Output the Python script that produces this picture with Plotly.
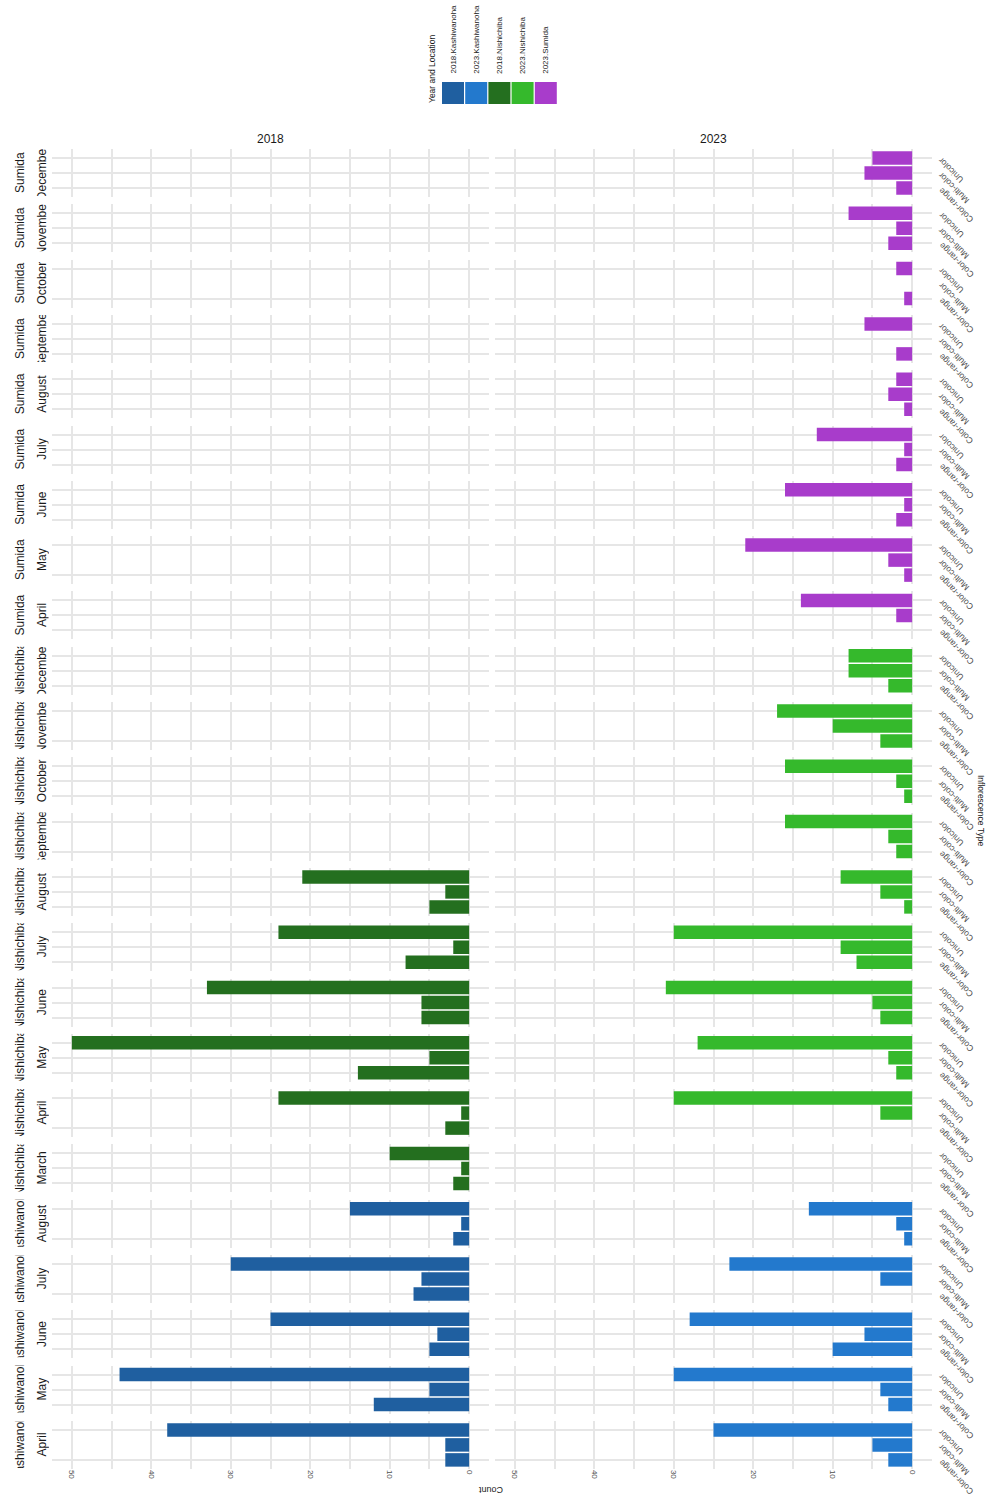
import plotly.graph_objects as go

# ---------------------------------------------------------------- data
types = ["Unicolor", "Multi-color", "Color-range"]          # top -> bottom inside each panel
type_order = ["Color-range", "Multi-color", "Unicolor"]     # axis order bottom -> top
years = ["2018", "2023"]

sumida_months = ["December", "November", "October", "September", "August",
                 "July", "June", "May", "April"]
nishichiba_months = ["December", "November", "October", "September", "August",
                     "July", "June", "May", "April", "March"]
kashiwanoha_months = ["August", "July", "June", "May", "April"]

sumida_2023_unicolor = [5, 8, 2, 6, 2, 12, 16, 21, 14]
sumida_2023_multicolor = [6, 2, None, None, 3, 1, 1, 3, 2]
sumida_2023_colorrange = [2, 3, 1, 2, 1, 2, 2, 1, None]

nishichiba_2018_unicolor = [None, None, None, None, 21, 24, 33, 50, 24, 10]
nishichiba_2018_multicolor = [None, None, None, None, 3, 2, 6, 5, 1, 1]
nishichiba_2018_colorrange = [None, None, None, None, 5, 8, 6, 14, 3, 2]

nishichiba_2023_unicolor = [8, 17, 16, 16, 9, 30, 31, 27, 30, None]
nishichiba_2023_multicolor = [8, 10, 2, 3, 4, 9, 5, 3, 4, None]
nishichiba_2023_colorrange = [3, 4, 1, 2, 1, 7, 4, 2, None, None]

kashiwanoha_2018_unicolor = [15, 30, 25, 44, 38]
kashiwanoha_2018_multicolor = [1, 6, 4, 5, 3]
kashiwanoha_2018_colorrange = [2, 7, 5, 12, 3]

kashiwanoha_2023_unicolor = [13, 23, 28, 30, 25]
kashiwanoha_2023_multicolor = [2, 4, 6, 4, 5]
kashiwanoha_2023_colorrange = [1, None, 10, 3, 3]

legend_keys = ["2018.Kashiwanoha", "2023.Kashiwanoha", "2018.Nishichiba",
               "2023.Nishichiba", "2023.Sumida"]
palette = {
    "2018.Kashiwanoha": "#1f5fa0",
    "2023.Kashiwanoha": "#2379cd",
    "2018.Nishichiba": "#246f1f",
    "2023.Nishichiba": "#35b92c",
    "2023.Sumida": "#a83ccb",
}

# (year, location) -> per-month values for each inflorescence type
series = {
    ("2023", "Sumida"): (sumida_2023_unicolor, sumida_2023_multicolor, sumida_2023_colorrange),
    ("2018", "Nishichiba"): (nishichiba_2018_unicolor, nishichiba_2018_multicolor, nishichiba_2018_colorrange),
    ("2023", "Nishichiba"): (nishichiba_2023_unicolor, nishichiba_2023_multicolor, nishichiba_2023_colorrange),
    ("2018", "Kashiwanoha"): (kashiwanoha_2018_unicolor, kashiwanoha_2018_multicolor, kashiwanoha_2018_colorrange),
    ("2023", "Kashiwanoha"): (kashiwanoha_2023_unicolor, kashiwanoha_2023_multicolor, kashiwanoha_2023_colorrange),
}

facet_rows = ([("Sumida", m, i) for i, m in enumerate(sumida_months)]
              + [("Nishichiba", m, i) for i, m in enumerate(nishichiba_months)]
              + [("Kashiwanoha", m, i) for i, m in enumerate(kashiwanoha_months)])

count_ticks = [0, 10, 20, 30, 40, 50]
count_minor = [5, 15, 25, 35, 45]

# ---------------------------------------------------------------- layout geometry
W, H = 989, 1498
FONT = "Liberation Sans, Arial, sans-serif"
GRID = "#e6e6e6"
row_top, row_pitch, panel_h = 149, 55.3, 48
col_px = [(52, 489), (495, 932)]


def px_x(v):
    return v / W


def px_y(v):
    return 1 - v / H


fig = go.Figure()
layout = dict(
    width=W, height=H,
    margin=dict(l=0, r=0, t=0, b=0),
    paper_bgcolor="white", plot_bgcolor="white",
    showlegend=False, bargap=0.1,
    font=dict(family=FONT, color="#1a1a1a"),
)
annotations = []
shapes = []

n_rows = len(facet_rows)
for r, (loc, month, mi) in enumerate(facet_rows):
    top = row_top + r * row_pitch
    ydom = [px_y(top + panel_h), px_y(top)]
    for c, year in enumerate(years):
        idx = r * 2 + c + 1
        xname = "xaxis" if idx == 1 else f"xaxis{idx}"
        yname = "yaxis" if idx == 1 else f"yaxis{idx}"
        xref = "x" if idx == 1 else f"x{idx}"
        yref = "y" if idx == 1 else f"y{idx}"
        layout[xname] = dict(
            domain=[px_x(col_px[c][0]), px_x(col_px[c][1])],
            range=[52.5, -2.5], anchor=yref,
            tickmode="array", tickvals=count_ticks,
            showgrid=True, gridcolor=GRID, gridwidth=1.8,
            minor=dict(tickvals=count_minor, showgrid=True, gridcolor=GRID, gridwidth=1.6),
            zeroline=False, showline=False, ticks="",
            showticklabels=(r == n_rows - 1), tickangle=90,
            tickfont=dict(size=8, color="#4d4d4d", family=FONT),
        )
        layout[yname] = dict(
            domain=ydom, anchor=xref, type="category",
            categoryorder="array", categoryarray=type_order,
            range=[-0.6, 2.6], showgrid=True, gridcolor=GRID, gridwidth=1.8,
            zeroline=False, showline=False, ticks="", showticklabels=False,
        )
        key = (year, loc)
        if key in series:
            uni, multi, crange = series[key]
            fig.add_trace(go.Bar(
                y=types, x=[uni[mi], multi[mi], crange[mi]],
                orientation="h", width=0.9,
                marker=dict(color=palette[f"{year}.{loc}"], line=dict(width=0)),
                xaxis=xref, yaxis=yref, hoverinfo="x+y",
            ))
        if c == 1:
            # inflorescence type labels on the right edge
            for t in types:
                annotations.append(dict(
                    text=t, xref="paper", yref=yref,
                    x=px_x(934), y=type_order.index(t), yshift=5,
                    xanchor="left", yanchor="top", textangle=-135,
                    showarrow=False, font=dict(size=8.5, color="#4d4d4d", family=FONT),
                ))
    # facet strip labels (location, month) on the left
    yref0 = "y" if r == 0 else f"y{r * 2 + 1}"
    for label, xpx in ((loc, 20), (month, 42)):
        annotations.append(dict(
            text=label, xref="paper", yref=yref0, x=px_x(xpx), y=1,
            xanchor="center", yanchor="middle", textangle=-90, width=47,
            showarrow=False, font=dict(size=12, color="#1a1a1a", family=FONT),
        ))

# column strip titles
for c, year in enumerate(years):
    annotations.append(dict(
        text=year, xref="paper", yref="paper",
        x=px_x(sum(col_px[c]) / 2), y=px_y(139),
        xanchor="center", yanchor="middle", showarrow=False,
        font=dict(size=12, color="#1a1a1a", family=FONT),
    ))

# axis titles
annotations.append(dict(
    text="Count", xref="paper", yref="paper", x=px_x(491), y=px_y(1490),
    xanchor="center", yanchor="middle", textangle=180, showarrow=False,
    font=dict(size=9, color="#1a1a1a", family=FONT),
))
annotations.append(dict(
    text="Inflorescence Type", xref="paper", yref="paper", x=px_x(981), y=px_y(810),
    xanchor="center", yanchor="middle", textangle=90, showarrow=False,
    font=dict(size=8.5, color="#1a1a1a", family=FONT),
))

# legend: swatches with vertical labels
annotations.append(dict(
    text="Year and Location", xref="paper", yref="paper", x=px_x(432), y=px_y(105),
    xanchor="center", yanchor="bottom", textangle=-90, showarrow=False,
    font=dict(size=8.5, color="#1a1a1a", family=FONT),
))
sw_left, sw_size, sw_step, sw_top = 442, 22, 23.2, 82
for i, k in enumerate(legend_keys):
    x0 = sw_left + i * sw_step
    shapes.append(dict(
        type="rect", xref="paper", yref="paper",
        x0=px_x(x0), x1=px_x(x0 + sw_size), y0=px_y(sw_top + sw_size), y1=px_y(sw_top),
        fillcolor=palette[k], line=dict(width=0),
    ))
    annotations.append(dict(
        text=k, xref="paper", yref="paper", x=px_x(x0 + sw_size / 2), y=px_y(76),
        xanchor="center", yanchor="bottom", textangle=-90, showarrow=False,
        font=dict(size=8, color="#1a1a1a", family=FONT),
    ))

layout["annotations"] = annotations
layout["shapes"] = shapes
fig.update_layout(**layout)
fig.write_html("out.html")
